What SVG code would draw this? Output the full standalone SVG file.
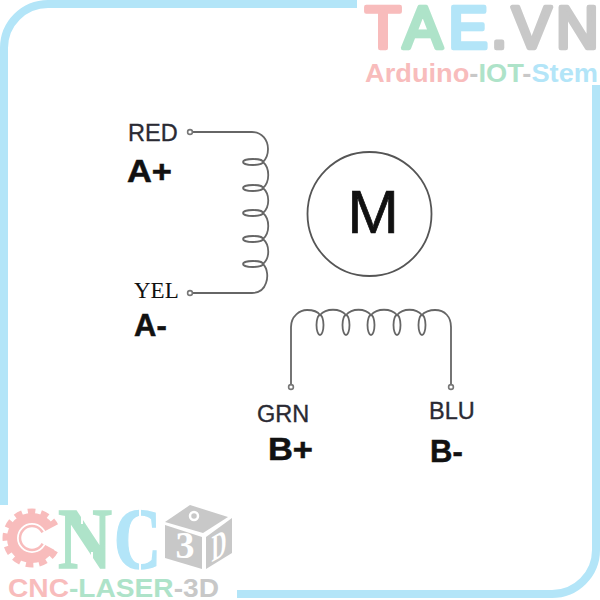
<svg xmlns="http://www.w3.org/2000/svg" width="600" height="600" viewBox="0 0 600 600">
<style>
.w{fill:none;stroke:#666;stroke-width:1.8}
.l{font-family:"Liberation Sans",Arial,sans-serif;font-size:23.5px;fill:#2a2a33;stroke:#2a2a33;stroke-width:.35}
.b{font-family:"Liberation Sans",Arial,sans-serif;font-weight:700;font-size:31px;fill:#111;stroke:#111;stroke-width:.5}
.f{fill:none;stroke:#b3e5f8;stroke-width:8}
.h{font-family:"Liberation Sans",Arial,sans-serif;font-weight:700}
.t{font-family:"Liberation Sans",Arial,sans-serif;font-size:59px;stroke-width:4.5px;stroke-linejoin:round;stroke-linecap:round}
.s{font-family:"Liberation Serif",serif;font-weight:700}
.p{fill:#f8bcbc}.g{fill:#aee3c9}.c{fill:#b3e5f8}.y{fill:#c8c8c8}
.sp{stroke:#f8bcbc}.sg{stroke:#aee3c9}.sc{stroke:#b3e5f8}.sy{stroke:#c8c8c8}
.n{fill:#fff;stroke:#777;stroke-width:1.6}
</style>
<rect width="600" height="600" fill="#fff"/>
<g id="frame">
<path class="f" d="M357 4H48A44 44 0 0 0 4 48V505"/>
<path class="f" d="M237 594H552A44 44 0 0 0 596 550V85"/>
</g>
<g id="connectors">
<path class="w" d="M190 132H252C262 132 268 140 268 149C268 154 266 159 263 162C270 168 270 182 263 188C270 194 270 207 263 213C270 219 270 233 263 239C270 245 270 258 263 264C268 269 268 278 266 283C264 289 259 293 252 293H190"/>
<g class="w"><ellipse cx="253" cy="162" rx="10" ry="3"/><ellipse cx="253" cy="188" rx="10" ry="3"/><ellipse cx="253" cy="213" rx="10" ry="3"/><ellipse cx="253" cy="239" rx="10" ry="3"/><ellipse cx="253" cy="264" rx="10" ry="3"/></g>
<path class="w" d="M291 387V327C291 316 300 310 307 310C313 310 318 312 320 315C326 308 340 308 346 315C352 308 365 308 371 315C377 308 391 308 397 315C403 308 416 308 422 315C424 312 430 310 435 310C445 310 451 317 451 327V387"/>
<g class="w"><ellipse cx="320" cy="325" rx="3.500" ry="10"/><ellipse cx="346" cy="325" rx="3.500" ry="10"/><ellipse cx="371" cy="325" rx="3.500" ry="10"/><ellipse cx="397" cy="325" rx="3.500" ry="10"/><ellipse cx="422" cy="325" rx="3.500" ry="10"/></g>
<circle class="n" cx="190" cy="132" r="2.400"/>
<circle class="n" cx="190" cy="293" r="2.400"/>
<circle class="n" cx="291" cy="387" r="2.400"/>
<circle class="n" cx="451" cy="387" r="2.400"/>
</g>
<g id="motor">
<circle cx="369.500" cy="214" r="62" fill="none" stroke="#555" stroke-width="1.800"/>
<text x="373" y="233" text-anchor="middle" font-family="Liberation Sans,sans-serif" font-size="62" fill="#111" stroke="#111" stroke-width=".7">M</text>
</g>
<g id="red"><text class="l" x="128" y="141">RED</text><text class="b" x="127" y="182" textLength="45" lengthAdjust="spacingAndGlyphs">A+</text></g>
<g id="yel"><text x="134" y="298" font-family="Liberation Serif,serif" font-size="23" fill="#111">YEL</text><text class="b" x="134" y="336">A-</text></g>
<g id="grn"><text class="l" x="257" y="422">GRN</text><text class="b" x="268" y="460" textLength="45" lengthAdjust="spacingAndGlyphs">B+</text></g>
<g id="blu"><text class="l" x="429" y="419">BLU</text><text class="b" x="430" y="462">B-</text></g>
<g id="logo-tae">
<text class="t p sp" x="365" y="48">T</text>
<text class="t g sg" x="403" y="48">A</text>
<text class="t c sc" x="448.500" y="48">E</text>
<text class="t y sy" x="491" y="48">.</text>
<text class="t y sy" x="512" y="48">V</text>
<text class="t y sy" x="556" y="48">N</text>
<text class="h" x="365" y="82" font-size="26" textLength="233" lengthAdjust="spacingAndGlyphs"><tspan class="p">Arduino</tspan><tspan class="y">-</tspan><tspan class="g">IOT</tspan><tspan class="y">-</tspan><tspan class="c">Stem</tspan></text>
</g>
<g id="logo-cnc">
<circle cx="32" cy="538" r="26" fill="none" stroke="#f8bcbc" stroke-width="7" stroke-dasharray="7.500 5.560"/>
<circle cx="32" cy="538" r="20" fill="none" stroke="#f8bcbc" stroke-width="10"/>
<circle cx="32" cy="538" r="12" fill="none" stroke="#f8bcbc" stroke-width="2.500"/>
<path d="M32 538L66 520V556Z" fill="#fff"/>
<text class="s g sg" x="58" y="568" font-size="87" stroke-width="1.500" textLength="54" lengthAdjust="spacingAndGlyphs">N</text>
<text class="s c sc" x="114" y="568" font-size="87" stroke-width="1.500" textLength="47" lengthAdjust="spacingAndGlyphs">C</text>
<path d="M139 506h2v20h-2zM139 552h2v18h-2zM81 508h2v16h-2zM91 552h2v18h-2z" fill="#fff"/>
<path class="y" d="M165 522L190 505L228 517L203 533Z"/>
<path class="y" d="M165 525L202 537V569L165 558Z"/>
<path class="y" d="M206 537L232 518V553L206 569Z"/>
<text class="s" x="185" y="558" text-anchor="middle" font-size="38" fill="#fff">3</text>
<text class="s" transform="translate(219 558) skewY(-30)" text-anchor="middle" font-size="38" fill="#fff" textLength="15" lengthAdjust="spacingAndGlyphs">D</text>
<circle cx="194" cy="516" r="4" fill="none" stroke="#fff" stroke-width="2.500"/>
<text class="h" x="8" y="597" font-size="26" textLength="211" lengthAdjust="spacingAndGlyphs"><tspan class="p">CNC</tspan><tspan class="g">-LASER</tspan><tspan class="y">-3D</tspan></text>
</g>
</svg>
